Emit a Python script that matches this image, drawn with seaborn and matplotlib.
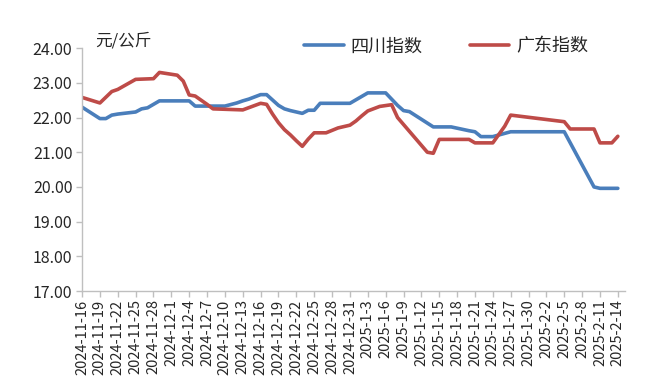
import pandas as pd
import matplotlib
matplotlib.use("Agg")
import matplotlib.pyplot as plt
import matplotlib.dates as mdates
from matplotlib.ticker import FuncFormatter
import seaborn as sns

# 四川指数 (blue)
sc_dates = ["2024-11-16", "2024-11-19", "2024-11-20", "2024-11-21", "2024-11-22", "2024-11-25",
            "2024-11-26", "2024-11-27", "2024-11-29", "2024-12-4", "2024-12-5", "2024-12-10",
            "2024-12-12", "2024-12-13", "2024-12-14", "2024-12-16", "2024-12-17", "2024-12-19",
            "2024-12-20", "2024-12-21", "2024-12-23", "2024-12-24", "2024-12-25", "2024-12-26",
            "2024-12-31", "2025-1-3", "2025-1-6", "2025-1-8", "2025-1-9", "2025-1-10",
            "2025-1-14", "2025-1-17", "2025-1-20", "2025-1-21", "2025-1-22", "2025-1-24",
            "2025-1-27", "2025-2-5", "2025-2-10", "2025-2-11", "2025-2-14"]
sc_values = [22.30, 21.97, 21.97, 22.07, 22.10, 22.16,
             22.25, 22.28, 22.48, 22.48, 22.33, 22.33,
             22.42, 22.48, 22.53, 22.66, 22.66, 22.35,
             22.25, 22.20, 22.12, 22.21, 22.21, 22.41,
             22.41, 22.71, 22.71, 22.35, 22.20, 22.17,
             21.73, 21.73, 21.62, 21.59, 21.45, 21.45,
             21.59, 21.59, 20.00, 19.96, 19.96]

# 广东指数 (red)
gd_dates = ["2024-11-16", "2024-11-19", "2024-11-21", "2024-11-22", "2024-11-25", "2024-11-28",
            "2024-11-29", "2024-12-2", "2024-12-3", "2024-12-4", "2024-12-5", "2024-12-7",
            "2024-12-8", "2024-12-13", "2024-12-16", "2024-12-17", "2024-12-18", "2024-12-19",
            "2024-12-20", "2024-12-21", "2024-12-22", "2024-12-23", "2024-12-24", "2024-12-25",
            "2024-12-27", "2024-12-29", "2024-12-31", "2025-1-1", "2025-1-2", "2025-1-3",
            "2025-1-5", "2025-1-7", "2025-1-8", "2025-1-9", "2025-1-13", "2025-1-14",
            "2025-1-15", "2025-1-20", "2025-1-21", "2025-1-24", "2025-1-26", "2025-1-27",
            "2025-2-5", "2025-2-6", "2025-2-10", "2025-2-11", "2025-2-13", "2025-2-14"]
gd_values = [22.58, 22.42, 22.75, 22.81, 23.10, 23.12,
             23.30, 23.22, 23.05, 22.65, 22.62, 22.38,
             22.25, 22.22, 22.41, 22.38, 22.10, 21.85,
             21.65, 21.50, 21.33, 21.17, 21.38, 21.56,
             21.56, 21.70, 21.78, 21.90, 22.05, 22.19,
             22.32, 22.37, 22.00, 21.80, 21.00, 20.97,
             21.37, 21.37, 21.27, 21.27, 21.75, 22.07,
             21.88, 21.67, 21.67, 21.27, 21.27, 21.46]

series_names = ["四川指数", "广东指数"]
colors = ["#4A7EBB", "#BE4B48"]

df = pd.concat([
    pd.DataFrame({"date": pd.to_datetime(sc_dates), "value": sc_values, "series": series_names[0]}),
    pd.DataFrame({"date": pd.to_datetime(gd_dates), "value": gd_values, "series": series_names[1]}),
], ignore_index=True)

sns.set_theme(style="white")
plt.rcParams["font.family"] = ["Noto Sans CJK SC", "DejaVu Sans"]

fig, ax = plt.subplots(figsize=(6.67, 3.85), dpi=100)
fig.subplots_adjust(left=0.123, right=0.937, top=0.875, bottom=0.244)

sns.lineplot(data=df, x="date", y="value", hue="series", hue_order=series_names,
             palette=colors, linewidth=2.6, ax=ax, legend=True)

start = pd.Timestamp("2024-11-16")
end = pd.Timestamp("2025-2-14")
ax.set_xlim(start, end + pd.Timedelta(days=1.2))
ax.set_ylim(17, 24)
ax.set_yticks([17, 18, 19, 20, 21, 22, 23, 24])
ax.yaxis.set_major_formatter(FuncFormatter(lambda v, p: f"{v:.2f}"))

ticks = pd.date_range(start, end, freq="3D")
ax.set_xticks(mdates.date2num(ticks))
ax.set_xticklabels([f"{d.year}-{d.month}-{d.day}" for d in ticks], rotation=90)

ax.set_xlabel("")
ax.set_ylabel("")
for side in ["top", "right"]:
    ax.spines[side].set_visible(False)
for side in ["left", "bottom"]:
    ax.spines[side].set_color("#BFBFBF")
    ax.spines[side].set_linewidth(1.0)

ax.tick_params(axis="both", which="major", length=4, width=1, color="#BFBFBF",
               direction="out", labelcolor="#262626", bottom=True, left=True)
ax.tick_params(axis="y", labelsize=11.5, pad=3)
ax.tick_params(axis="x", labelsize=10.5, pad=2)

ax.text(0.025, 1.03, "元/公斤", transform=ax.transAxes, fontsize=12, color="#262626",
        ha="left", va="center")

ax.legend(loc="center", bbox_to_anchor=(0.669, 0.88), bbox_transform=fig.transFigure,
          ncol=2, frameon=False, fontsize=13, handlelength=2.2, columnspacing=2.6,
          handletextpad=0.4, labelcolor="#262626")

fig.savefig("out.png", dpi=100)
